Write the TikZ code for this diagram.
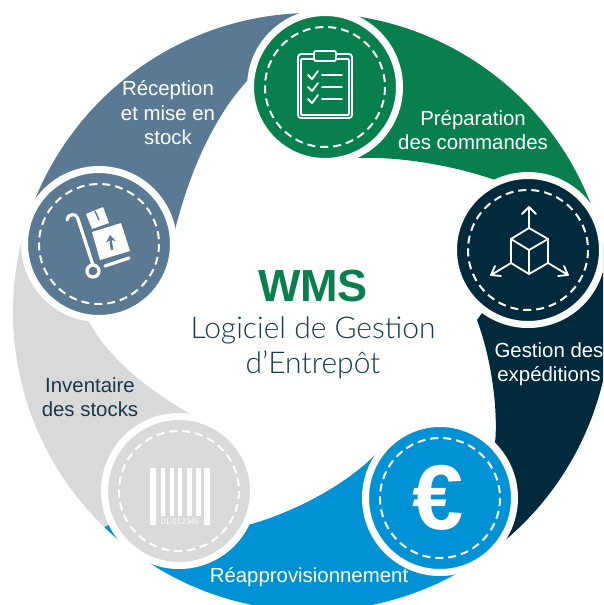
\documentclass[tikz,border=0pt]{standalone}
\usepackage{fontspec}
\setmainfont{Liberation Sans}
\newfontfamily\thinfont{Lato Light}
\usetikzlibrary{positioning, arrows.meta}
\definecolor{wmsgreen}{HTML}{07804E}
\definecolor{wmsnavy}{HTML}{012B3C}
\definecolor{wmsblue}{HTML}{0092D5}
\definecolor{wmsslate}{HTML}{5A7A94}
\definecolor{wmsgrey}{HTML}{D9D9D9}
\definecolor{wmstext}{HTML}{17394B}
\tikzset{
  disc/.style={circle, draw=white, line width=7pt, minimum size=149pt, inner sep=0pt},
  dashring/.style={draw=white, line width=2pt, dash pattern=on 8pt off 5pt},
  seglabel/.style={align=center, font=\fontsize{20.4}{24.5}\selectfont, text=white},
  iconline/.style={draw=white, line width=1.8pt, line cap=round, line join=round},
  trolleyline/.style={iconline, line width=3.2pt},
}
\begin{document}
\begin{tikzpicture}[x=1pt,y=-1pt]
        \useasboundingbox (0,0) rectangle (603,605);
        \clip (0,0) rectangle (603,605);
        \coordinate (c) at (312,312);
        \coordinate (cgreen) at (325,87);
        \coordinate (cnavy) at (528,250);
        \coordinate (cblue) at (440,498);
        \coordinate (cgrey) at (179,491);
        \coordinate (cslate) at (99,244);

        % segments of the ring
        \fill[wmsgrey] (c) ++(127:299) arc[start angle=127,end angle=197,radius=299]
            -- (cslate) -- (88,320) .. controls (108,358) and (148,390) .. (192,415) -- (cgrey) -- cycle;
        \fill[wmsslate] (c) ++(197:299) arc[start angle=197,end angle=273,radius=299]
            -- (cgreen) -- (248,80) .. controls (215,115) and (190,170) .. (175,230) -- (cslate) -- cycle;
        \fill[wmsgreen] (c) ++(-87:299) arc[start angle=-87,end angle=-16,radius=299]
            -- (cnavy) -- (495,180) .. controls (455,166) and (400,156) .. (355,158) -- (cgreen) -- cycle;
        \fill[wmsnavy] (c) ++(-16:299) arc[start angle=-16,end angle=56,radius=299]
            -- (cblue) -- (495,443) .. controls (498,415) and (493,363) .. (477,320) -- (cnavy) -- cycle;
        \fill[wmsblue] (c) ++(56:299) arc[start angle=56,end angle=134,radius=299]
            -- (cgrey) -- (248,525) .. controls (285,515) and (340,490) .. (375,455) -- (cblue) -- cycle;

        % discs
        \node[disc, fill=wmsgrey] (barcode) at (cgrey) {};
        \node[disc, fill=wmsslate] (trolley) at (cslate) {};
        \node[disc, fill=wmsgreen] (clipboard) at (cgreen) {};
        \node[disc, fill=wmsnavy] (cube) at (cnavy) {};
        \node[disc, fill=wmsblue] (euro) at (cblue) {};
        \foreach \ctr in {cgrey,cslate,cgreen,cnavy,cblue}
            \draw[dashring] (\ctr) circle[radius=60];

        % clipboard icon
        \draw[iconline, rounded corners=3pt] (298,54) rectangle (352,118);
        \draw[iconline, rounded corners=1pt] (301,59) rectangle (349,115);
        \draw[iconline, rounded corners=2pt, fill=wmsgreen] (314,61) rectangle (336,51);
        \foreach \y in {75,87,99} {
            \draw[iconline] (308,\y) -- (312,\y+4) -- (318,\y-4);
            \draw[iconline] (322,\y) -- (342,\y);
        }

        % cube icon
        \draw[iconline] (529,228) -- (548,239) -- (548,263) -- (529,274) -- (511,263) -- (511,239) -- cycle;
        \draw[iconline] (511,239) -- (529,250) -- (548,239) (529,250) -- (529,274);
        \draw[iconline] (529,228) -- (529,207) (522,214) -- (529,207) -- (536,214);
        \draw[iconline] (511,263) -- (491,275) (501,276) -- (491,275) -- (495,266);
        \draw[iconline] (548,263) -- (568,275) (558,276) -- (568,275) -- (564,266);

        % euro sign
        \node[font=\bfseries\fontsize{92}{92}\selectfont, text=white] (eurosign) at (438,498) {€};

        % barcode icon
        \fill[white] (150,468) rectangle (156,525) (161,468) rectangle (165,516)
            (170,468) rectangle (174,516) (178,468) rectangle (182,516)
            (187,468) rectangle (192,516) (196,468) rectangle (201,516) (204,468) rectangle (210,525);
        \node[font=\fontsize{8}{8}\selectfont, text=white, inner sep=0pt] (barcodetext) at (180,522) {01-012345};

        % trolley icon
        \draw[trolleyline] (67,220) arc[start angle=180,end angle=340,radius=5.5] -- (93,265);
        \draw[trolleyline] (105,266) -- (129,258);
        \draw[trolleyline] (93,271) circle[radius=6];
        \fill[white] (92,232) -- (121,223) -- (130,251) -- (100,260) -- cycle;
        \fill[white] (86,214) -- (103,207) -- (109,223) -- (92,229) -- cycle;
        \draw[draw=wmsslate, line width=1.5pt] (95,211) -- (99,220);
        \draw[draw=wmsslate, line width=2.5pt, -{Stealth[length=7pt,width=10pt]}] (112,250) -- (110,235);

        % labels
        \node[seglabel] (prep) at (473,130) {Préparation\\des commandes};
        \node[seglabel] (exped) at (549,364) {Gestion des\\expéditions};
        \node[seglabel] (reappro) at (309,577) {Réapprovisionnement};
        \node[seglabel, text=wmstext] (inv) at (90,397) {Inventaire\\des stocks};
        \node[seglabel] (recep) at (168,113) {Réception\\et mise en\\stock};

        % title in the centre
        \node[font=\bfseries\fontsize{45}{45}\selectfont, text=wmsgreen] (wms) at (313,286) {WMS};
        \node[font=\thinfont\fontsize{30}{35}\selectfont, text=wmstext, align=center] (logiciel) at (313,348) {Logiciel de Gestion\\d’Entrepôt};
    \end{tikzpicture}
\end{document}
